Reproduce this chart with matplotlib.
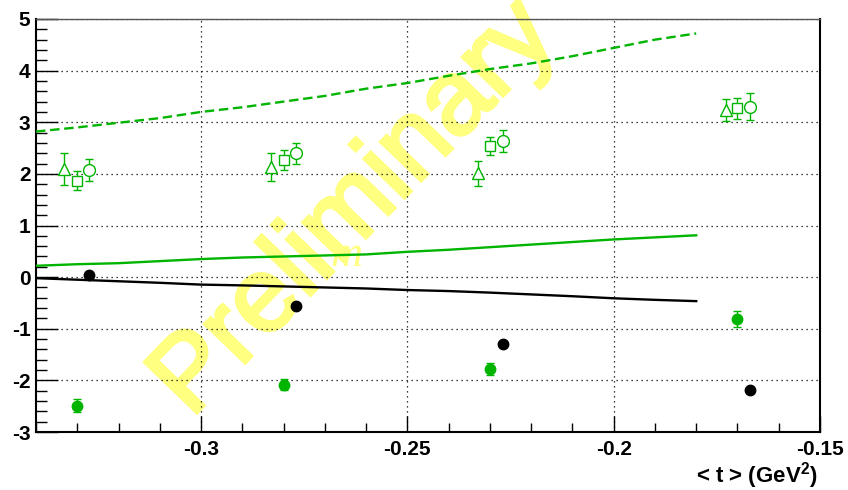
import numpy as np
import matplotlib
matplotlib.use('Agg')
import matplotlib.pyplot as plt
from matplotlib.ticker import MultipleLocator, FormatStrFormatter
from matplotlib.textpath import TextPath
from matplotlib.patches import PathPatch
from matplotlib.font_manager import FontProperties
from matplotlib.transforms import Affine2D

plt.rcParams['font.family'] = ['Liberation Sans', 'DejaVu Sans']
plt.rcParams['mathtext.fontset'] = 'custom'
plt.rcParams['mathtext.bf'] = 'Liberation Sans:bold'
plt.rcParams['mathtext.rm'] = 'Liberation Sans:bold'

# curves vs <t>
curve_t = [-0.34, -0.33, -0.32, -0.31, -0.30, -0.29, -0.28, -0.27, -0.26,
           -0.25, -0.24, -0.23, -0.22, -0.21, -0.20, -0.19, -0.18]
dashed_green = [2.82, 2.90, 2.99, 3.08, 3.20, 3.29, 3.40, 3.51, 3.65,
                3.76, 3.90, 4.03, 4.14, 4.28, 4.44, 4.60, 4.72]
solid_green = [0.22, 0.25, 0.27, 0.31, 0.35, 0.38, 0.40, 0.42, 0.44,
               0.49, 0.53, 0.58, 0.63, 0.68, 0.73, 0.77, 0.81]
solid_black = [-0.02, -0.05, -0.08, -0.11, -0.145, -0.16, -0.18, -0.20, -0.22,
               -0.25, -0.27, -0.30, -0.335, -0.37, -0.41, -0.44, -0.465]

# open markers (green)
tri_t = [-0.3331, -0.2830, -0.2330, -0.1728]
tri_y = [2.09, 2.14, 2.01, 3.24]
tri_err = [0.31, 0.27, 0.24, 0.21]
sq_t = [-0.3300, -0.2800, -0.2300, -0.1700]
sq_y = [1.87, 2.27, 2.54, 3.27]
sq_err = [0.19, 0.19, 0.17, 0.20]
circ_t = [-0.3271, -0.2771, -0.2268, -0.1669]
circ_y = [2.07, 2.40, 2.64, 3.30]
circ_err = [0.21, 0.20, 0.21, 0.26]

# filled markers
gfill_t = [-0.3300, -0.2800, -0.2300, -0.1700]
gfill_y = [-2.49, -2.08, -1.78, -0.81]
gfill_err = [0.12, 0.11, 0.11, 0.15]
black_t = [-0.3271, -0.2771, -0.2268, -0.1669]
black_y = [0.05, -0.56, -1.29, -2.18]

green = '#00b400'
yellow = '#ffff80'

fig = plt.figure(figsize=(8.48, 4.9), dpi=100)
ax = fig.add_axes([36 / 848, 58 / 490, 784 / 848, 413 / 490])
ax.set_xlim(-0.34, -0.15)
ax.set_ylim(-3, 5)

ax.grid(True, which='major', color='black', linestyle=(0, (1, 3)), linewidth=0.9, zorder=1)

# watermark, drawn in pixel coordinates
wm_path = TextPath((0, 0), 'Preliminary', size=106, prop=FontProperties(family='Liberation Sans'))
wm = PathPatch(wm_path, facecolor=yellow, edgecolor=yellow, linewidth=2.5,
               transform=Affine2D().rotate_deg(46).translate(191, 490 - 419), zorder=2)
fig.add_artist(wm)
fig.text(330 / 848, 1 - 266 / 490, 'm', family='Liberation Serif', style='italic',
         fontsize=32, color=yellow, ha='left', va='baseline', zorder=2)

ax.set_zorder(3)
ax.patch.set_alpha(0)

ax.plot(curve_t, dashed_green, color=green, linewidth=1.7, dashes=(4, 2), zorder=3)
ax.plot(curve_t, solid_green, color=green, linewidth=1.7, zorder=3)
ax.plot(curve_t, solid_black, color='black', linewidth=1.7, zorder=3)

ax.errorbar(tri_t, tri_y, yerr=tri_err, fmt='^', ms=8.5, mfc='white', mec=green, mew=1,
            ecolor=green, elinewidth=1, capsize=3, capthick=1, zorder=4)
ax.errorbar(sq_t, sq_y, yerr=sq_err, fmt='s', ms=7.5, mfc='white', mec=green, mew=1,
            ecolor=green, elinewidth=1, capsize=3, capthick=1, zorder=4)
ax.errorbar(circ_t, circ_y, yerr=circ_err, fmt='o', ms=8.5, mfc='white', mec=green, mew=1,
            ecolor=green, elinewidth=1, capsize=3, capthick=1, zorder=4)
ax.errorbar(gfill_t, gfill_y, yerr=gfill_err, fmt='o', ms=7.5, color=green,
            elinewidth=1, capsize=3, capthick=1, zorder=4)
ax.plot(black_t, black_y, 'o', ms=7.5, color='black', zorder=4)

ax.xaxis.set_major_locator(MultipleLocator(0.05))
ax.xaxis.set_minor_locator(MultipleLocator(0.01))
ax.yaxis.set_major_locator(MultipleLocator(1))
ax.yaxis.set_minor_locator(MultipleLocator(0.2))
ax.xaxis.set_major_formatter(FormatStrFormatter('%g'))
ax.yaxis.set_major_formatter(FormatStrFormatter('%g'))

ax.tick_params(axis='x', which='major', direction='in', length=11.5, width=1, pad=6,
               labelsize=15, top=False)
ax.tick_params(axis='x', which='minor', direction='in', length=6.5, width=1, top=False)
ax.tick_params(axis='y', which='major', direction='in', length=16, width=1, pad=4,
               labelsize=15, right=False)
ax.tick_params(axis='y', which='minor', direction='in', length=8, width=1, right=False)
for lab in ax.get_xticklabels() + ax.get_yticklabels():
    lab.set_fontweight('bold')

for side in ['left', 'bottom', 'right']:
    ax.spines[side].set_linewidth(1.5)
ax.spines['top'].set_linewidth(1.0)
ax.spines['top'].set_color('#555555')

fig.text(818 / 848, 1 - 476 / 490, r'< t > (GeV$^{\mathbf{2}}$)', ha='right', va='center',
         fontsize=16, fontweight='bold')

fig.savefig('out.png', dpi=100)
